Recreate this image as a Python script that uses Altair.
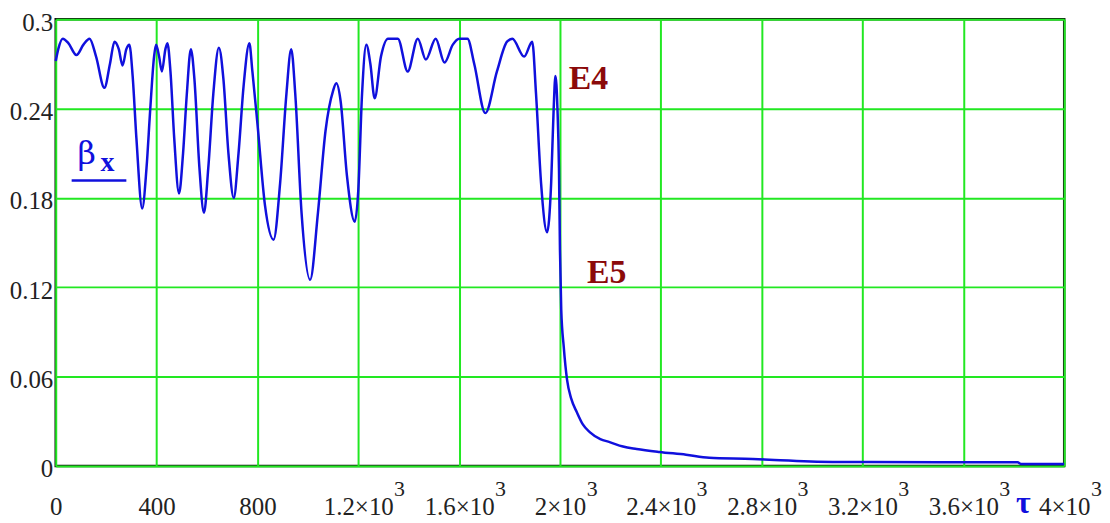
import altair as alt
import pandas as pd

# ---- data ----
tau = [0, 10, 28, 50, 82, 110, 134, 160, 193, 215, 233, 250, 265, 280, 292, 305, 320, 343, 360, 375,
       390, 398, 410, 421, 435, 443, 455, 470, 489, 505, 520, 536, 550, 570, 588, 605, 625, 647, 665, 685,
       706, 725, 745, 768, 780, 800, 830, 864, 890, 915, 934, 950, 975, 1009, 1040, 1070, 1100, 1113, 1130, 1155,
       1186, 1200, 1215, 1232, 1248, 1265, 1290, 1318, 1357, 1396, 1436, 1468, 1507, 1542, 1575, 1601, 1633, 1660, 1704, 1750,
       1790, 1811, 1858, 1890, 1905, 1925, 1949, 1965, 1975, 1982, 1990, 1996, 2000, 2005, 2015, 2028, 2045, 2067, 2090, 2118,
       2160, 2197, 2250, 2304, 2394, 2500, 2592, 2765, 2850, 3081, 3500, 3815, 3830, 4000]
beta = [0.272, 0.280, 0.287, 0.284, 0.276, 0.283, 0.287, 0.275, 0.254, 0.270, 0.285, 0.280, 0.269, 0.280, 0.283, 0.262, 0.220, 0.173, 0.200, 0.240,
        0.275, 0.283, 0.275, 0.265, 0.280, 0.284, 0.265, 0.220, 0.183, 0.210, 0.250, 0.280, 0.260, 0.200, 0.170, 0.200, 0.250, 0.281, 0.260, 0.210,
        0.180, 0.210, 0.255, 0.284, 0.265, 0.230, 0.175, 0.152, 0.190, 0.250, 0.280, 0.250, 0.170, 0.125, 0.170, 0.225, 0.252, 0.257, 0.245, 0.195,
        0.164, 0.185, 0.250, 0.283, 0.270, 0.247, 0.275, 0.287, 0.287, 0.265, 0.287, 0.273, 0.287, 0.271, 0.283, 0.287, 0.287, 0.270, 0.237, 0.265,
        0.285, 0.287, 0.275, 0.285, 0.250, 0.190, 0.157, 0.190, 0.240, 0.262, 0.240, 0.200, 0.145, 0.105, 0.080, 0.058, 0.045, 0.036, 0.028, 0.0227,
        0.018, 0.016, 0.013, 0.0114, 0.0094, 0.0075, 0.0055, 0.0047, 0.0040, 0.0027, 0.0025, 0.0024, 0.0012, 0.0012]

x_ticks = [0, 400, 800, 1200, 1600, 2000, 2400, 2800, 3200, 3600, 4000]
y_ticks = [0, 0.06, 0.12, 0.18, 0.24, 0.3]
sup_long_ticks = [1200, 1600, 2400, 2800, 3200, 3600]
sup_short_ticks = [2000, 4000]

ann_labels = ["E4", "E5"]
ann_tau = [2035, 2107]
ann_beta = [0.253, 0.123]

SERIF = "Liberation Serif"
BLUE = "#1010dd"
GREEN = "#22e822"
RED = "#8b0a0a"
INK = "#222222"

df = pd.DataFrame({"tau": tau, "beta": beta})
ann = pd.DataFrame({"tau": ann_tau, "beta": ann_beta, "label": ann_labels})
sup_long = pd.DataFrame({"tau": sup_long_ticks, "s": ["3"] * len(sup_long_ticks)})
sup_short = pd.DataFrame({"tau": sup_short_ticks, "s": ["3"] * len(sup_short_ticks)})

xs = alt.Scale(domain=[0, 4000], nice=False, zero=False)
ys = alt.Scale(domain=[0, 0.3], nice=False)

line = alt.Chart(df).mark_line(color=BLUE, strokeWidth=2.5, interpolate="monotone").encode(
    x=alt.X("tau:Q", scale=xs, axis=alt.Axis(
        values=x_ticks, title=None, ticks=False, tickSize=0, domain=False,
        labelExpr="datum.value < 1000 ? toString(datum.value) : format(datum.value/1000, '~g') + '×10'",
        labelFont=SERIF, labelFontSize=25, labelColor=INK, labelPadding=29,
        labelFlush=False, labelOverlap=False,
        grid=True, gridColor=GREEN, gridWidth=2, gridOpacity=1)),
    y=alt.Y("beta:Q", scale=ys, axis=alt.Axis(
        values=y_ticks, title=None, ticks=False, tickSize=0, domain=False, format=".2~f",
        labelFont=SERIF, labelFontSize=25, labelColor=INK, labelPadding=3,
        labelFlush=False, labelOverlap=False, labelOffset=3,
        grid=True, gridColor=GREEN, gridWidth=2, gridOpacity=1)),
)

sup_l = alt.Chart(sup_long).mark_text(
    dx=36, align="left", baseline="alphabetic", font=SERIF, fontSize=22, color=INK
).encode(x=alt.X("tau:Q", scale=xs), y=alt.value(479), text="s:N")

sup_s = alt.Chart(sup_short).mark_text(
    dx=27, align="left", baseline="alphabetic", font=SERIF, fontSize=22, color=INK
).encode(x=alt.X("tau:Q", scale=xs), y=alt.value(479), text="s:N")

ann_text = alt.Chart(ann).mark_text(
    align="left", baseline="alphabetic", font=SERIF, fontSize=34, fontWeight="bold", color=RED
).encode(x=alt.X("tau:Q", scale=xs), y=alt.Y("beta:Q", scale=ys), text="label:N")

beta_lbl = alt.Chart(pd.DataFrame({"t": ["β"]})).mark_text(
    align="left", baseline="alphabetic", font="DejaVu Serif", fontSize=32, color=BLUE
).encode(x=alt.value(22), y=alt.value(145), text="t:N")

sub_lbl = alt.Chart(pd.DataFrame({"t": ["x"]})).mark_text(
    align="left", baseline="alphabetic", font=SERIF, fontSize=28, fontWeight="bold", color=BLUE
).encode(x=alt.value(45), y=alt.value(152), text="t:N")

underline = alt.Chart(pd.DataFrame({"a": [0]})).mark_rule(color=BLUE, strokeWidth=2.5).encode(
    x=alt.value(16), x2=alt.value(71), y=alt.value(162))

tau_lbl = alt.Chart(pd.DataFrame({"t": ["τ"]})).mark_text(
    align="center", baseline="alphabetic", font=SERIF, fontSize=32, fontWeight="bold", color=BLUE
).encode(x=alt.value(973), y=alt.value(496), text="t:N")

chart = alt.layer(line, sup_l, sup_s, ann_text, beta_lbl, sub_lbl, underline, tau_lbl).properties(
    width=1014, height=449,
    autosize=alt.AutoSizeParams(type="none"),
    padding={"left": 48, "top": 10, "right": 38, "bottom": 56},
    background="white",
).configure_view(stroke="#111111", strokeWidth=2.5)

chart.save("out.html", embed_options={"renderer": "svg", "actions": False})
